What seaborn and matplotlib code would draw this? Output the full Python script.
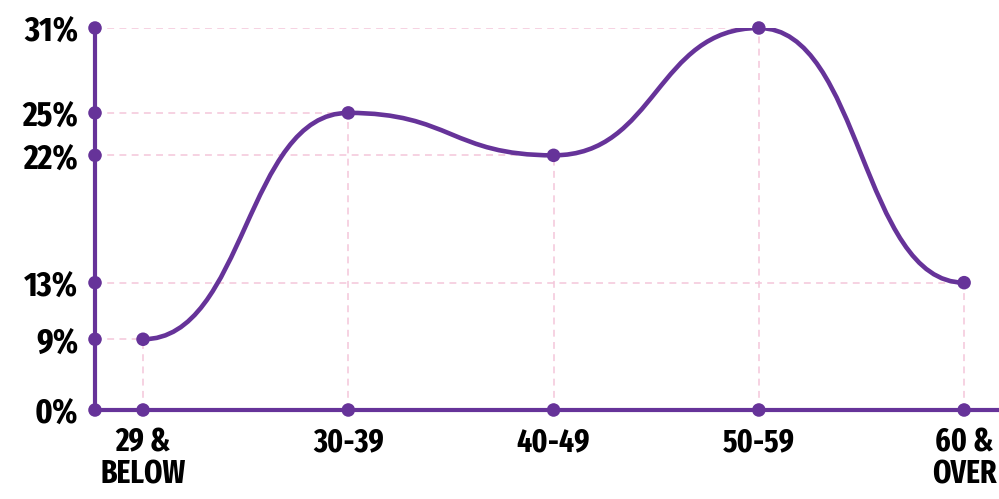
import matplotlib
matplotlib.use("Agg")
import matplotlib.pyplot as plt
from matplotlib import font_manager as fm
from matplotlib.path import Path
from matplotlib.patches import PathPatch
import seaborn as sns
import pandas as pd

# ---- data ----
categories = ["29 &\nBELOW", "30-39", "40-49", "50-59", "60 &\nOVER"]
values = [9, 25, 22, 31, 13]
ytick_values = [4, 9, 13, 22, 25, 31]
ytick_labels = ["0%", "9%", "13%", "22%", "25%", "31%"]

PURPLE = "#663399"
PINK = "#f4c6da"


def _w(weight):
    if isinstance(weight, (int, float)):
        return int(weight)
    return {"bold": 700, "heavy": 800, "black": 900, "semibold": 600,
            "demibold": 600, "extra bold": 800, "normal": 400,
            "regular": 400}.get(str(weight).lower(), 400)


def pick_font():
    entries = fm.fontManager.ttflist

    def find(pred):
        c = [e for e in entries if pred(e)]
        c.sort(key=lambda e: abs(_w(e.weight) - 750))
        return c[0].fname if c else None

    tests = [
        ("xc", lambda e: ("ExtraCondensed" in e.name or "extra-condensed" in str(e.stretch)
                          or "ExtraCondensed" in e.fname) and _w(e.weight) >= 700),
        ("c", lambda e: ("Condensed" in e.name or str(e.stretch) == "condensed"
                         or "Condensed" in e.fname) and _w(e.weight) >= 700),
        ("c", lambda e: "Narrow" in e.name and _w(e.weight) >= 700),
    ]
    for kind, t in tests:
        f = find(t)
        if f:
            return kind, f
    return None, None


kind, fname = pick_font()

sns.set_theme(style="white")
fig = plt.figure(figsize=(9.99, 4.99), dpi=100)
ax = fig.add_axes([95 / 999, 89 / 499, (999 - 95) / 999, (410 - 28) / 499])

xs = list(range(len(categories)))
df = pd.DataFrame({"x": xs, "value": values})

ymin, ymax = ytick_values[0], ytick_values[-1]
xleft = -0.234
ax.set_xlim(xleft, 4.17)
ax.set_ylim(ymin, ymax)

# dashed guide lines
for x, y in zip(xs, values):
    ax.plot([x, x], [ymin, y], color=PINK, lw=1.1, dashes=(4.5, 3.5), zorder=1)
    ax.plot([xleft, x], [y, y], color=PINK, lw=1.1, dashes=(4.5, 3.5), zorder=1)

# smooth curve (bump-style cubic segments through the data points)
verts = [(xs[0], values[0])]
codes = [Path.MOVETO]
for i in range(len(xs) - 1):
    xm = (xs[i] + xs[i + 1]) / 2
    verts += [(xm, values[i]), (xm, values[i + 1]), (xs[i + 1], values[i + 1])]
    codes += [Path.CURVE4] * 3
ax.add_patch(PathPatch(Path(verts, codes), fill=False, edgecolor=PURPLE,
                       lw=3.3, zorder=3, capstyle="round"))

# points
sns.scatterplot(data=df, x="x", y="value", color=PURPLE, s=95, edgecolor="none",
                zorder=4, ax=ax, clip_on=False, legend=False)
# dots on axes
sns.scatterplot(x=xs, y=[ymin] * len(xs), color=PURPLE, s=95, edgecolor="none",
                zorder=5, ax=ax, clip_on=False, legend=False)
sns.scatterplot(x=[xleft] * len(ytick_values), y=ytick_values, color=PURPLE, s=95,
                edgecolor="none", zorder=5, ax=ax, clip_on=False, legend=False)

# spines
for s in ["top", "right"]:
    ax.spines[s].set_visible(False)
for s in ["left", "bottom"]:
    ax.spines[s].set_color(PURPLE)
    ax.spines[s].set_linewidth(3.0)
    ax.spines[s].set_zorder(4)

ax.set_xticks(xs)
ax.set_xticklabels(categories)
ax.set_yticks(ytick_values)
ax.set_yticklabels(ytick_labels)
ax.tick_params(axis="both", length=0)
ax.tick_params(axis="y", pad=12)
ax.tick_params(axis="x", pad=12)
ax.grid(False)
ax.set_xlabel("")
ax.set_ylabel("")

if kind == "xc":
    fpy = fm.FontProperties(fname=fname, size=25)
    fpx = fm.FontProperties(fname=fname, size=23)
elif kind == "c":
    fpy = fm.FontProperties(fname=fname, size=23)
    fpx = fm.FontProperties(fname=fname, size=20)
else:
    fpy = fm.FontProperties(family="DejaVu Sans", weight="bold", size=20)
    fpx = fm.FontProperties(family="DejaVu Sans", weight="bold", size=17)
for lab in ax.get_yticklabels():
    lab.set_fontproperties(fpy)
    lab.set_color("black")
for lab in ax.get_xticklabels():
    lab.set_fontproperties(fpx)
    lab.set_color("black")
    lab.set_linespacing(1.0)

fig.savefig("out.png", dpi=100, facecolor="white")
